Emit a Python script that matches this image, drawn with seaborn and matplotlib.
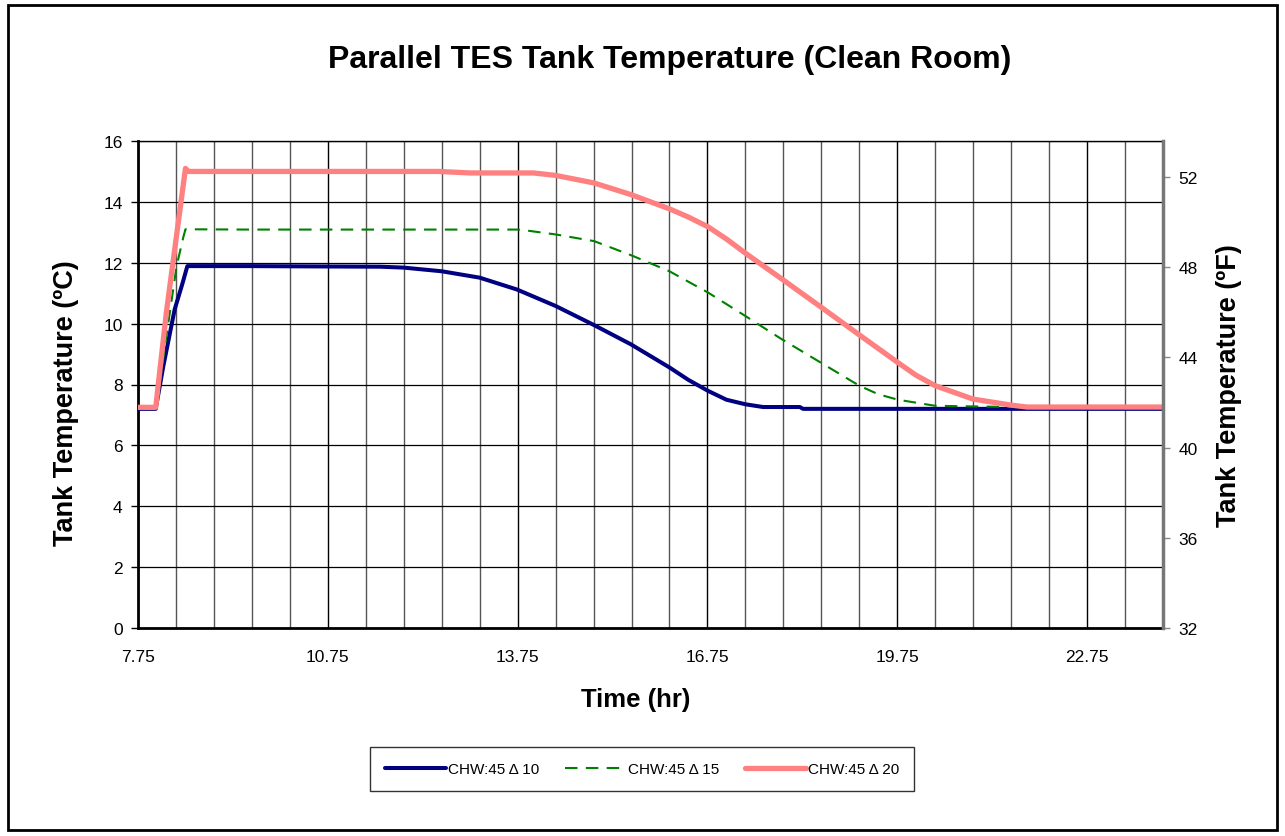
import numpy as np
import pandas as pd
import matplotlib
matplotlib.use("Agg")
import matplotlib.pyplot as plt
import seaborn as sns
from matplotlib.ticker import FixedLocator
from matplotlib.patches import Rectangle

# values (time in hr, temperature in degC)
t_d10 = [7.75, 8.03, 8.15, 8.33, 8.45, 8.53, 9.5, 10.5, 11.58, 11.95, 12.55, 13.15, 13.74,
         14.35, 14.96, 15.54, 16.15, 16.45, 16.76, 17.05, 17.35, 17.63, 18.21, 18.26, 20.0,
         22.0, 23.95]
T_d10 = [7.2, 7.2, 8.6, 10.47, 11.3, 11.89, 11.89, 11.88, 11.87, 11.84, 11.72, 11.51, 11.12,
         10.58, 9.95, 9.32, 8.56, 8.15, 7.79, 7.5, 7.35, 7.26, 7.26, 7.2, 7.2, 7.2, 7.2]

t_d15 = [7.75, 8.04, 8.2, 8.36, 8.47, 8.5, 9.5, 11.0, 12.5, 13.74, 13.89, 14.35, 14.96, 15.54,
         16.15, 16.76, 17.35, 17.9, 18.54, 19.15, 19.45, 19.76, 20.35, 20.95, 21.6, 22.5, 23.95]
T_d15 = [7.25, 7.25, 9.6, 11.89, 12.87, 13.1, 13.09, 13.09, 13.09, 13.09, 13.06, 12.93, 12.71,
         12.25, 11.72, 11.02, 10.25, 9.52, 8.72, 7.96, 7.68, 7.5, 7.3, 7.28, 7.26, 7.25, 7.25]

t_d20 = [7.75, 8.03, 8.2, 8.5, 8.55, 10.0, 11.5, 12.5, 13.0, 14.0, 14.35, 14.96, 15.54, 16.15,
         16.45, 16.76, 17.05, 17.34, 17.95, 18.54, 19.15, 19.76, 20.05, 20.35, 20.95, 21.56,
         21.8, 23.0, 23.95]
T_d20 = [7.25, 7.25, 10.4, 15.1, 15.0, 15.0, 15.0, 15.0, 14.95, 14.95, 14.87, 14.62, 14.24, 13.77,
         13.5, 13.18, 12.78, 12.33, 11.43, 10.55, 9.63, 8.72, 8.3, 7.96, 7.52, 7.32, 7.26, 7.26,
         7.26]

labels = ["CHW:45 \u0394 10", "CHW:45 \u0394 15", "CHW:45 \u0394 20"]
x_ticks = [7.75, 10.75, 13.75, 16.75, 19.75, 22.75]
y_ticks = [0, 2, 4, 6, 8, 10, 12, 14, 16]
f_ticks = [32, 36, 40, 44, 48, 52]

sns.set_style("white")
plt.rcParams["font.family"] = ["Liberation Sans", "DejaVu Sans"]
plt.rcParams["text.color"] = "black"

fig = plt.figure(figsize=(12.85, 8.37), dpi=100)
W, H = 1285, 837
ax = fig.add_axes([138 / W, 1 - 629 / H, (1163 - 138) / W, (629 - 142) / H])

sns.lineplot(x=t_d10, y=T_d10, ax=ax, color="#000080", lw=2.9, label=labels[0],
             sort=False, estimator=None, zorder=3)
sns.lineplot(x=t_d15, y=T_d15, ax=ax, color="#008000", lw=1.5, label=labels[1],
             sort=False, estimator=None, zorder=4)
ax.lines[-1].set_dashes([6, 4])
sns.lineplot(x=t_d20, y=T_d20, ax=ax, color="#FF8080", lw=3.8, label=labels[2],
             sort=False, estimator=None, zorder=5)

ax.set_xlim(7.75, 23.95)
ax.set_ylim(0, 16)
ax.xaxis.set_major_locator(FixedLocator(x_ticks))
ax.xaxis.set_minor_locator(FixedLocator(np.arange(7.75, 23.96, 0.6)))
ax.set_xticklabels([f"{v:.2f}" for v in x_ticks])
ax.set_yticks(y_ticks)
ax.grid(which="minor", axis="x", color="#555555", lw=1)
ax.grid(which="major", axis="x", color="black", lw=1)
ax.grid(which="major", axis="y", color="black", lw=0.9)
ax.tick_params(axis="both", which="major", direction="out", length=5, width=1,
               labelsize=12.5, colors="black", pad=6)
ax.tick_params(axis="x", which="minor", length=0)
ax.tick_params(axis="x", pad=10)
for s in ["left", "bottom"]:
    ax.spines[s].set_color("black")
    ax.spines[s].set_linewidth(2)
ax.spines["top"].set_color("black")
ax.spines["top"].set_linewidth(1)
ax.spines["right"].set_visible(False)
ax.set_xlabel("")
ax.set_ylabel("")

ax2 = ax.twinx()
ax2.set_ylim(32, 32 + 20 * 487 / 451)
ax2.set_yticks(f_ticks)
ax2.tick_params(axis="y", direction="out", length=5, width=1, labelsize=12.5,
                color="#888888", labelcolor="black", pad=6)
for s in ["left", "bottom", "top"]:
    ax2.spines[s].set_visible(False)
ax2.spines["right"].set_color("#777777")
ax2.spines["right"].set_linewidth(2.5)
ax2.grid(False)

fig.text(670 / W, 1 - 60 / H, "Parallel TES Tank Temperature (Clean Room)",
         ha="center", va="center", fontsize=23, fontweight="bold", color="black")
fig.text(636 / W, 1 - 700 / H, "Time (hr)", ha="center", va="center",
         fontsize=18.5, fontweight="bold", color="black")
fig.text(66 / W, 1 - 403 / H, "Tank Temperature (\u00baC)", ha="center", va="center",
         rotation=90, fontsize=19.5, fontweight="bold", color="black")
fig.text(1229 / W, 1 - 386 / H, "Tank Temperature (\u00baF)", ha="center", va="center",
         rotation=90, fontsize=19.5, fontweight="bold", color="black")

handles, labs = ax.get_legend_handles_labels()
ax.legend_.remove()
leg = fig.legend(handles, labs, loc="center", bbox_to_anchor=(642 / W, 1 - 770 / H),
                 ncol=3, frameon=True, fontsize=11, handlelength=4,
                 handletextpad=0.1, columnspacing=1.7, borderpad=1.0,
                 fancybox=False, edgecolor="black")
leg.get_frame().set_linewidth(1)
for txt in leg.get_texts():
    txt.set_color("black")

fig.patches.append(Rectangle((8 / W, 6 / H), 1 - 16 / W, 1 - 12 / H, transform=fig.transFigure,
                             fill=False, edgecolor="black", lw=2))

fig.savefig("out.png", dpi=100, facecolor="white")
